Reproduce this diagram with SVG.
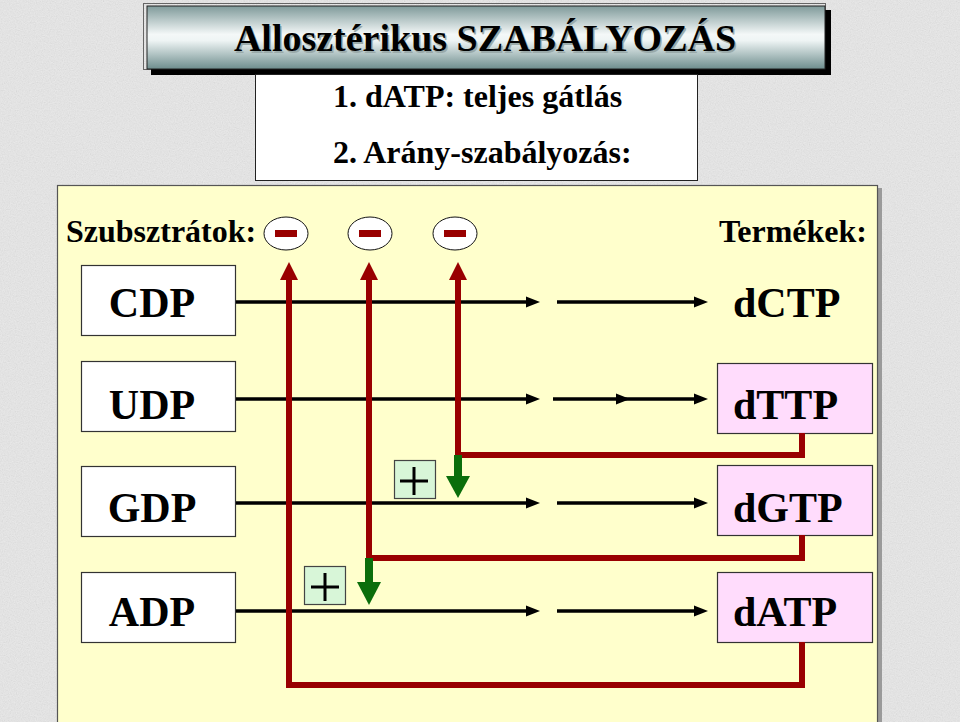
<svg xmlns="http://www.w3.org/2000/svg" width="960" height="722" viewBox="0 0 960 722">
<defs>
<style>
text{font-family:'Liberation Serif','Times New Roman','DejaVu Serif',serif;font-weight:bold}
.box{stroke:#333;stroke-width:1.2}
.lbox{fill:#fff}
.pbox{fill:#ffdcfc}
.blk{stroke:#000;stroke-width:3.5;fill:none}
.red{stroke:#990000;stroke-width:6;fill:none;stroke-linejoin:miter}
.redh{fill:#990000}
.grn{fill:#0b6e0b}
.plus{fill:#d8f6d8;stroke:#444;stroke-width:1.2}
.pl{stroke:#000;stroke-width:3}
</style>
<linearGradient id="ban" x1="0" y1="0" x2="0" y2="1">
<stop offset="0" stop-color="#7f9a9a"/>
<stop offset="0.45" stop-color="#f4f8f8"/>
<stop offset="0.55" stop-color="#eef4f4"/>
<stop offset="1" stop-color="#6e8e8e"/>
</linearGradient>
<filter id="tex" x="0" y="0" width="1" height="1">
<feTurbulence type="fractalNoise" baseFrequency="0.85" numOctaves="2" seed="4"/>
<feColorMatrix type="matrix" values="0.33 0.33 0.33 0 0  0.33 0.33 0.33 0 0  0.33 0.33 0.33 0 0  0 0 0 0 1"/>
</filter>
<marker id="ah" markerUnits="userSpaceOnUse" markerWidth="14" markerHeight="14" viewBox="0 0 14 14" refX="4" refY="7" orient="auto">
<path d="M0,1.5 L14,7 L0,12.5 z" fill="#000"/>
</marker>
</defs>

<g id="background">
<rect x="0" y="0" width="960" height="722" fill="#ececec"/>
<rect x="0" y="0" width="960" height="722" filter="url(#tex)" opacity="0.18"/>
</g>

<g id="title">
<rect x="143.5" y="3.5" width="682" height="66" fill="none" stroke="#666" stroke-width="1"/>
<rect x="151" y="10" width="680" height="65" fill="#000"/>
<rect x="147" y="6" width="678" height="63" fill="url(#ban)" stroke="#222" stroke-width="1"/>
<text font-family="Liberation Serif, serif" x="486.5" y="52.5" font-size="38" text-anchor="middle" fill="#9aaaaa">Allosztérikus SZABÁLYOZÁS</text>
<text font-family="Liberation Serif, serif" x="485" y="51" font-size="38" text-anchor="middle" fill="#000">Allosztérikus SZABÁLYOZÁS</text>
</g>

<g id="rules">
<rect x="255.5" y="74.5" width="442" height="106" fill="#fff" stroke="#222" stroke-width="1"/>
<text font-family="Liberation Serif, serif" x="333" y="107" font-size="32">1. dATP: teljes gátlás</text>
<text font-family="Liberation Serif, serif" x="333" y="163" font-size="32">2. Arány-szabályozás:</text>
</g>

<g id="panel">
<rect x="60" y="188" width="822" height="545" fill="#9a9a9a"/>
<rect x="57.5" y="185.5" width="820" height="545" fill="#ffffcc" stroke="#555" stroke-width="1.2"/>
<text font-family="Liberation Serif, serif" x="66" y="242" font-size="32">Szubsztrátok:</text>
<text font-family="Liberation Serif, serif" x="867" y="242" font-size="32" text-anchor="end">Termékek:</text>
</g>

<g id="inhibitors">
<g id="minus1"><ellipse cx="286" cy="233.5" rx="22" ry="16.5" fill="#fff" stroke="#111" stroke-width="1"/><rect x="275" y="230" width="22" height="7" fill="#990000"/></g>
<g id="minus2"><ellipse cx="370" cy="233.5" rx="22" ry="16.5" fill="#fff" stroke="#111" stroke-width="1"/><rect x="359" y="230" width="22" height="7" fill="#990000"/></g>
<g id="minus3"><ellipse cx="455" cy="233.5" rx="22" ry="16.5" fill="#fff" stroke="#111" stroke-width="1"/><rect x="444" y="230" width="22" height="7" fill="#990000"/></g>
</g>

<g id="substrates">
<g id="CDP"><rect class="box lbox" x="81.5" y="265.5" width="154" height="70"/><text font-family="Liberation Serif, serif" x="152" y="317" font-size="42" text-anchor="middle">CDP</text></g>
<g id="UDP"><rect class="box lbox" x="81.5" y="361.5" width="154" height="70"/><text font-family="Liberation Serif, serif" x="152" y="419" font-size="42" text-anchor="middle">UDP</text></g>
<g id="GDP"><rect class="box lbox" x="81.5" y="466.5" width="154" height="70"/><text font-family="Liberation Serif, serif" x="152" y="522" font-size="42" text-anchor="middle">GDP</text></g>
<g id="ADP"><rect class="box lbox" x="81.5" y="572.5" width="154" height="70"/><text font-family="Liberation Serif, serif" x="152" y="626" font-size="42" text-anchor="middle">ADP</text></g>
</g>

<g id="products">
<g id="dCTP"><text font-family="Liberation Serif, serif" x="733" y="317" font-size="42">dCTP</text></g>
<g id="dTTP"><rect class="box pbox" x="717.5" y="363.5" width="155" height="70"/><text font-family="Liberation Serif, serif" x="733" y="419" font-size="42">dTTP</text></g>
<g id="dGTP"><rect class="box pbox" x="717.5" y="465.5" width="155" height="70"/><text font-family="Liberation Serif, serif" x="733" y="522" font-size="42">dGTP</text></g>
<g id="dATP"><rect class="box pbox" x="717.5" y="572.5" width="155" height="70"/><text font-family="Liberation Serif, serif" x="733" y="626" font-size="42">dATP</text></g>
</g>

<g id="connectors">
<g id="reactions">
<line class="blk" x1="236" y1="302" x2="530" y2="302" marker-end="url(#ah)"/>
<line class="blk" x1="557" y1="302" x2="698" y2="302" marker-end="url(#ah)"/>
<line class="blk" x1="236" y1="399" x2="530" y2="399" marker-end="url(#ah)"/>
<line class="blk" x1="553" y1="399" x2="620" y2="399" marker-end="url(#ah)"/>
<line class="blk" x1="624" y1="399" x2="698" y2="399" marker-end="url(#ah)"/>
<line class="blk" x1="236" y1="503" x2="530" y2="503" marker-end="url(#ah)"/>
<line class="blk" x1="557" y1="503" x2="698" y2="503" marker-end="url(#ah)"/>
<line class="blk" x1="236" y1="611" x2="530" y2="611" marker-end="url(#ah)"/>
<line class="blk" x1="557" y1="611" x2="698" y2="611" marker-end="url(#ah)"/>
</g>
<g id="feedback">
<polyline class="red" points="802,642 802,685 289,685 289,277"/>
<polygon class="redh" points="289,262 280,280 298,280"/>
<polyline class="red" points="802,535 802,558 369,558 369,277"/>
<polygon class="redh" points="369,262 360,280 378,280"/>
<polyline class="red" points="802,433 802,455 458,455 458,277"/>
<polygon class="redh" points="458,262 449,280 467,280"/>
</g>
<g id="activators">
<rect class="grn" x="454" y="455" width="8" height="23"/>
<polygon class="grn" points="446,476 470,476 458,498"/>
<rect class="grn" x="365" y="558" width="8" height="26"/>
<polygon class="grn" points="357,582 381,582 369,605"/>
</g>
</g>

<g id="plus1">
<rect class="plus" x="394.5" y="460.5" width="41" height="38"/>
<line class="pl" x1="400" y1="481" x2="428" y2="481"/>
<line class="pl" x1="414" y1="467" x2="414" y2="495"/>
</g>
<g id="plus2">
<rect class="plus" x="304.5" y="566.5" width="41" height="38"/>
<line class="pl" x1="311" y1="587" x2="339" y2="587"/>
<line class="pl" x1="325" y1="573" x2="325" y2="601"/>
</g>
</svg>
